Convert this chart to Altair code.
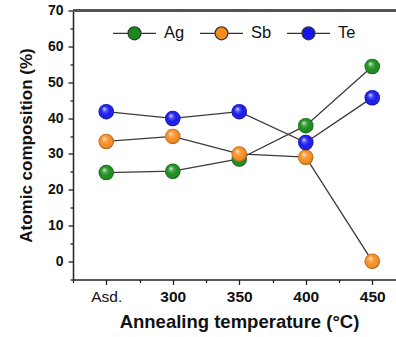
import json
import altair as alt
import pandas as pd

categories = ["Asd.", "300", "350", "400", "450"]
series_names = ["Ag", "Sb", "Te"]
ag = [24.8, 25.2, 28.6, 37.9, 54.4]
sb = [33.5, 34.9, 30.0, 29.1, 0.1]
te = [41.8, 39.9, 41.8, 33.2, 45.7]
colors = ["#178c17", "#f98c1c", "#1414ee"]
y_ticks = list(range(-5, 75, 5))
x_ticks = [i * 0.5 - 0.5 for i in range(10)]

rows = []
for name, vals in zip(series_names, [ag, sb, te]):
    for i, v in enumerate(vals):
        rows.append({"idx": i, "label": categories[i], "value": v, "series": name})
df = pd.DataFrame(rows)

STEP = 66.5
PLOT_W = 323
X_MAX = -0.5 + PLOT_W / STEP
FONT = "Liberation Sans"

x_label_expr = "datum.value % 1 == 0 ? " + json.dumps(categories) + "[datum.value] : ''"

x_scale = alt.Scale(domain=[-0.5, X_MAX], nice=False, zero=False)
y_scale = alt.Scale(domain=[-5, 70], nice=False, zero=False)

x_axis = alt.Axis(
    values=x_ticks,
    labelExpr=x_label_expr,
    title="Annealing temperature (°C)",
    titleFontSize=18.5,
    titleFontWeight="bold",
    titlePadding=7,
    titleX=166,
    labelFontSize=15.5,
    labelFontWeight={"condition": {"test": "datum.value == 0", "value": "normal"}, "value": "bold"},
    labelPadding=5,
    labelFlush=False,
    labelOverlap=False,
    tickSize={"condition": {"test": "datum.value % 1 != 0", "value": 3}, "value": 5},
)
y_axis = alt.Axis(
    values=y_ticks,
    labelExpr="datum.value >= 0 && datum.value % 10 == 0 ? datum.value : ''",
    title="Atomic composition (%)",
    titleFontSize=17,
    titleFontWeight="bold",
    titlePadding=12,
    labelFontSize=14,
    labelFontWeight="bold",
    labelPadding=5,
    labelOverlap=False,
    labelFlush=False,
    tickSize={"condition": {"test": "datum.value % 10 != 0", "value": 3}, "value": 5},
)

x_enc = alt.X("idx:Q", scale=x_scale, axis=x_axis)
y_enc = alt.Y("value:Q", scale=y_scale, axis=y_axis)

legend_path = (
    "M-1,0L-0.3,0M0.3,0L1,0"
    "M0.3,0A0.3,0.3,0,1,1,-0.3,0A0.3,0.3,0,1,1,0.3,0Z"
)
legend = alt.Legend(
    orient="none",
    legendX=39,
    legendY=0,
    direction="horizontal",
    title=None,
    symbolType=legend_path,
    symbolSize=1849,
    symbolStrokeColor="#333333",
    symbolStrokeWidth=1.2,
    symbolOpacity=1,
    labelFont=FONT,
    labelFontSize=16.5,
    labelColor="#111111",
    labelOffset=7,
    columnPadding=12,
    padding=0,
)
color_enc = alt.Color(
    "series:N",
    scale=alt.Scale(domain=series_names, range=colors),
    legend=legend,
)

base = alt.Chart(df)

lines = base.mark_line(color="#3a3a3a", strokeWidth=1.3).encode(
    x=x_enc, y=y_enc, detail="series:N"
)

frame = base.mark_rule(color="#555555", strokeWidth=1.5).encode(
    x=alt.X(datum=-0.5, type="quantitative", scale=x_scale, axis=x_axis),
    x2=alt.X2(datum=X_MAX),
    y=alt.Y(datum=70, type="quantitative", scale=y_scale, axis=y_axis),
)

gloss = {
    "gradient": "radial",
    "x1": 0.36, "y1": 0.3, "r1": 0.0,
    "x2": 0.5, "y2": 0.5, "r2": 0.5,
    "stops": [
        {"offset": 0.0, "color": "rgba(255,255,255,0.9)"},
        {"offset": 0.3, "color": "rgba(255,255,255,0.25)"},
        {"offset": 0.65, "color": "rgba(255,255,255,0)"},
        {"offset": 1.0, "color": "rgba(0,0,0,0.35)"},
    ],
}

layers = [lines, frame]
for name in series_names:
    sub = base.transform_filter(alt.datum.series == name)
    layers.append(
        sub.mark_circle(size=240, opacity=1).encode(x=x_enc, y=y_enc, color=color_enc)
    )
    layers.append(
        sub.mark_circle(size=240, opacity=1, fill=gloss).encode(x=x_enc, y=y_enc)
    )

chart = (
    alt.layer(*layers)
    .properties(
        width=PLOT_W,
        height=269,
        autosize=alt.AutoSizeParams(type="none"),
        padding={"left": 73, "top": 10.5, "right": 0, "bottom": 57.5},
        background="white",
    )
    .configure_view(stroke=None)
    .configure_axis(
        grid=False,
        domainColor="#222222",
        domainWidth=1.5,
        tickColor="#222222",
        tickWidth=1.3,
        labelFont=FONT,
        titleFont=FONT,
        labelColor="#111111",
        titleColor="#111111",
    )
)

chart.save("out.html", embed_options={"renderer": "svg", "actions": False})
